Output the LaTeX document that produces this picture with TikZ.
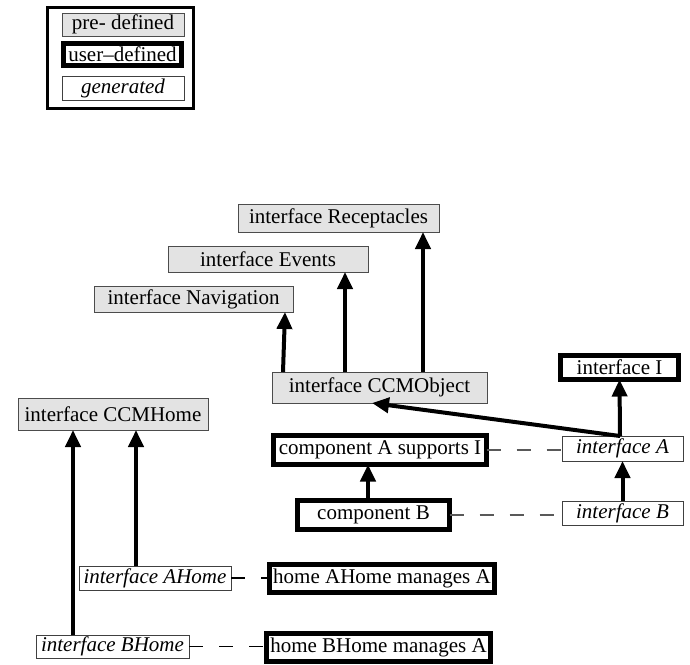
\documentclass[tikz,border=0pt]{standalone}
\usepackage{fontspec}
\setmainfont{Liberation Serif}
\usetikzlibrary{arrows.meta}
\definecolor{predefgray}{rgb}{0.89,0.89,0.89}
\begin{document}
\begin{tikzpicture}[x=1pt,y=-1pt,
  every node/.style={font=\fontsize{21pt}{24pt}\selectfont, inner sep=0pt, outer sep=0pt, anchor=center},
  predef/.style={draw=black!70, line width=1pt, fill=predefgray},
  userdef/.style={draw=black, line width=5pt, fill=white},
  gen/.style={draw=black!75, line width=1pt, fill=white, font=\fontsize{21pt}{24pt}\selectfont\itshape},
  inh/.style={line width=4pt, -{Triangle[width=15pt,length=17pt]}},
  rel/.style={draw=black!65, line width=1.2pt, dash pattern=on 14pt off 16pt}]
\useasboundingbox (0,0) rectangle (690,664);

% legend
\node[draw=black, line width=3pt, minimum width=146pt, minimum height=101pt] (legend) at (120.5,58) {};
\node[predef, minimum width=122pt, minimum height=23pt] (lpre) at (123,24.5) {pre- defined};
\node[userdef, minimum width=118pt, minimum height=22pt] (luser) at (122.5,54.5) {user--defined};
\node[gen, minimum width=122pt, minimum height=24pt] (lgen) at (123,88) {generated};

% predefined interfaces
\node[predef, minimum width=201pt, minimum height=28pt] (rec) at (338.5,218) {interface Receptacles};
\node[predef, minimum width=200pt, minimum height=26pt] (evt) at (268,259) {interface Events};
\node[predef, minimum width=199pt, minimum height=26pt] (nav) at (193.5,299) {interface Navigation};
\node[predef, minimum width=215pt, minimum height=31pt] (obj) at (379.5,387.5) {interface CCMObject};
\node[predef, minimum width=190pt, minimum height=32pt] (home) at (113,414) {interface CCMHome};

% user-defined
\node[userdef, minimum width=118pt, minimum height=24pt] (ifI) at (619.5,367.5) {interface I};
\node[userdef, minimum width=213pt, minimum height=29pt] (compA) at (380,450) {component A supports I};
\node[userdef, minimum width=152pt, minimum height=29pt] (compB) at (373.5,515) {component B};
\node[userdef, minimum width=225pt, minimum height=28pt] (homeA) at (382,578.5) {home AHome manages A};
\node[userdef, minimum width=224pt, minimum height=28pt] (homeB) at (378.5,647.5) {home BHome manages A};

% generated
\node[gen, minimum width=121pt, minimum height=25pt] (ifA) at (622.5,448.5) {interface A};
\node[gen, minimum width=121pt, minimum height=24pt] (ifB) at (622.5,513) {interface B};
\node[gen, minimum width=152pt, minimum height=24pt] (aHome) at (155,578) {interface AHome};
\node[gen, minimum width=153pt, minimum height=23pt] (bHome) at (112.5,646.5) {interface BHome};

% inheritance arrows
\draw[inh] ([xshift=-96.5pt]obj.north) -- ([xshift=91.5pt]nav.south);
\draw[inh] ([xshift=-34.5pt]obj.north) -- ([xshift=77pt]evt.south);
\draw[inh] ([xshift=43.5pt]obj.north) -- ([xshift=84.5pt]rec.south);
\draw[inh] ([xshift=-2.5pt]ifA.north) -- (ifI.south);
\draw[inh] ([xshift=-2.5pt]ifA.north) -- ([xshift=-7.5pt]obj.south);
\draw[inh] (ifB.north) -- (ifA.south);
\draw[inh] ([xshift=-5.5pt]compB.north) -- ([xshift=-12pt]compA.south);
\draw[inh] ([xshift=-19pt]aHome.north) -- ([xshift=23pt]home.south);
\draw[inh] ([xshift=-39.5pt]bHome.north) -- ([xshift=-40pt]home.south);

% relations
\draw[rel] (compA.east) -- (compA.east -| ifA.west);
\draw[rel] (compB.east) -- (compB.east -| ifB.west);
\draw[rel, draw=black] (aHome.east) -- (aHome.east -| homeA.west);
\draw[rel, draw=black] (bHome.east) -- (bHome.east -| homeB.west);
\end{tikzpicture}
\end{document}
